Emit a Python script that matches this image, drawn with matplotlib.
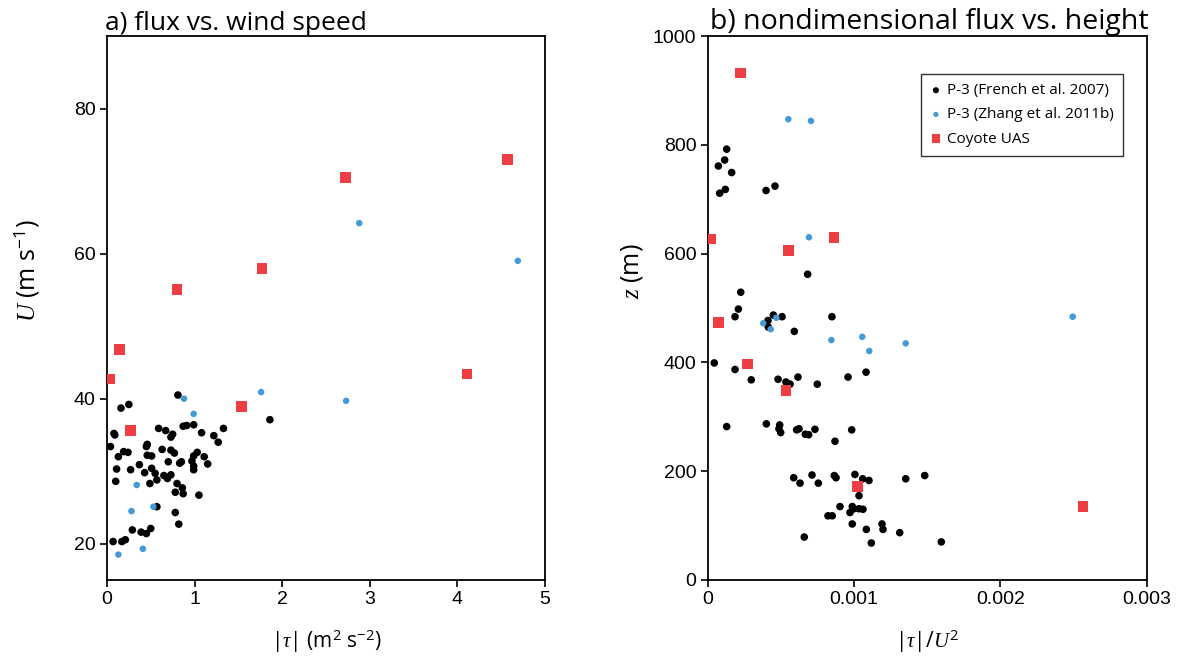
import matplotlib
matplotlib.use("Agg")
import matplotlib.pyplot as plt

# a) flux vs. wind speed  (|tau| in m2 s-2, U in m s-1)
french_tau = [0.81, 0.25, 0.16, 1.86, 0.08, 0.09, 0.59, 0.67, 0.75, 0.73, 0.87, 0.91, 0.99,
              1.08, 1.22, 1.33, 1.27, 0.04, 0.45, 0.46, 0.63, 0.73, 0.77, 0.19, 0.24, 0.13,
              0.46, 0.51, 1.03, 0.99, 1.11, 0.97, 0.70, 0.83, 0.85, 1.15, 0.99, 0.99, 0.11,
              0.27, 0.37, 0.51, 0.43, 0.55, 0.65, 0.73, 0.69, 0.57, 0.10, 0.49, 0.80, 0.86,
              0.78, 0.87, 1.05, 0.57, 0.78, 0.82, 0.29, 0.50, 0.39, 0.45, 0.07, 0.17, 0.21]
french_U = [40.5, 39.2, 38.7, 37.1, 35.2, 35.0, 35.9, 35.6, 35.1, 34.7, 36.2, 36.3, 36.4,
            35.3, 34.9, 35.9, 34.0, 33.4, 33.4, 33.7, 33.0, 32.9, 32.5, 32.7, 32.6, 32.0,
            32.2, 32.1, 32.6, 32.1, 32.0, 31.4, 31.3, 31.1, 31.3, 31.0, 30.7, 30.2, 30.3,
            30.2, 30.9, 30.4, 29.8, 29.7, 29.4, 29.5, 29.0, 28.8, 28.6, 28.3, 28.3, 27.7,
            27.1, 26.9, 26.7, 25.1, 24.3, 22.7, 21.9, 22.1, 21.6, 21.4, 20.3, 20.3, 20.55]
zhang_tau = [0.88, 0.99, 1.76, 2.73, 0.34, 0.28, 0.53, 0.13, 0.41, 2.88, 4.69]
zhang_U = [40.0, 37.9, 40.9, 39.7, 28.1, 24.5, 25.1, 18.5, 19.3, 64.2, 59.0]
coyote_tau = [0.14, 0.03, 1.54, 0.27, 0.80, 1.77, 2.72, 4.57, 4.11]
coyote_U = [46.8, 42.7, 38.9, 35.6, 55.0, 57.9, 70.5, 73.0, 43.4]

# b) nondimensional flux vs. height  (|tau|/U^2, z in m)
french_nd = [0.000131, 0.000117, 0.000074, 0.000165, 0.000083, 0.000122, 0.000400, 0.000461,
             0.000684, 0.000227, 0.000211, 0.000188, 0.000450, 0.000413, 0.000509, 0.000415,
             0.000593, 0.000850, 0.000046, 0.000188, 0.000299, 0.000482, 0.000536, 0.000564,
             0.000618, 0.000750, 0.000960, 0.001083, 0.000131, 0.000402, 0.000493, 0.000488,
             0.000500, 0.000609, 0.000625, 0.000668, 0.000691, 0.000734, 0.000985, 0.000871,
             0.000589, 0.000632, 0.000714, 0.000757, 0.000866, 0.000878, 0.001007, 0.001060,
             0.001103, 0.001354, 0.001484, 0.001035, 0.000905, 0.000989, 0.001001, 0.000973,
             0.001035, 0.001062, 0.000823, 0.000852, 0.000989, 0.001085, 0.001192, 0.001199,
             0.001313, 0.000661, 0.001119, 0.001597]
french_z = [792, 772, 761, 749, 711, 718, 716, 724, 562, 529, 498, 484, 487, 477, 484, 465,
            457, 484, 399, 387, 368, 369, 364, 360, 373, 360, 373, 382, 282, 287, 285, 278,
            271, 276, 278, 268, 267, 277, 276, 255, 188, 178, 193, 178, 192, 188, 194, 186,
            183, 186, 192, 155, 135, 135, 131, 124, 131, 130, 118, 118, 103, 93, 103, 93,
            87, 79, 68, 70]
zhang_nd = [0.000552, 0.000707, 0.000693, 0.000381, 0.000432, 0.000470, 0.000846, 0.001057,
            0.001105, 0.001354, 0.002495]
zhang_z = [847, 844, 630, 472, 461, 482, 441, 447, 421, 435, 484]
coyote_nd = [0.000224, 0.000024, 0.000555, 0.000864, 0.000074, 0.000275, 0.000536, 0.001023,
             0.002565]
coyote_z = [932, 627, 606, 630, 474, 397, 348, 172, 135]

BLACK = "#000000"
BLUE = "#4499d6"
RED = "#ee3e44"

plt.rcParams["font.family"] = ["Liberation Sans", "DejaVu Sans"]
plt.rcParams["mathtext.fontset"] = "custom"
plt.rcParams["mathtext.rm"] = "Open Sans"
plt.rcParams["mathtext.it"] = "Liberation Serif:italic"
plt.rcParams["mathtext.bf"] = "Open Sans:bold"

fig = plt.figure(figsize=(11.78, 6.63), dpi=100)
ax1 = fig.add_axes([0.0908, 0.1252, 0.3718, 0.8205])
ax2 = fig.add_axes([0.6006, 0.1252, 0.3728, 0.8205])

ax1.scatter(french_tau, french_U, s=30, color=BLACK, edgecolors="none", zorder=3)
ax1.scatter(zhang_tau, zhang_U, s=22, color=BLUE, edgecolors="none", zorder=3)
ax1.scatter(coyote_tau, coyote_U, s=60, marker="s", color=RED, edgecolors="none", zorder=4)
ax1.set_xlim(0, 5)
ax1.set_ylim(15, 90)
ax1.set_xticks([0, 1, 2, 3, 4, 5])
ax1.set_yticks([20, 40, 60, 80])

ax2.scatter(french_nd, french_z, s=30, color=BLACK, edgecolors="none", zorder=3,
            label="P-3 (French et al. 2007)")
ax2.scatter(zhang_nd, zhang_z, s=22, color=BLUE, edgecolors="none", zorder=3,
            label="P-3 (Zhang et al. 2011b)")
ax2.scatter(coyote_nd, coyote_z, s=60, marker="s", color=RED, edgecolors="none", zorder=4,
            label="Coyote UAS")
ax2.set_xlim(0, 0.003)
ax2.set_ylim(0, 1000)
ax2.set_xticks([0, 0.001, 0.002, 0.003])
ax2.set_xticklabels(["0", "0.001", "0.002", "0.003"])
ax2.set_yticks([0, 200, 400, 600, 800, 1000])

for ax in (ax1, ax2):
    for sp in ax.spines.values():
        sp.set_linewidth(1.3)
    ax.tick_params(direction="out", length=5, width=1.2, labelsize=14, pad=3)

ax1.set_title("a) flux vs. wind speed", loc="left", pad=3, x=-0.005,
              fontdict={"family": ["Open Sans", "DejaVu Sans"], "size": 19})
ax2.set_title("b) nondimensional flux vs. height", loc="left", pad=3, x=0.005,
              fontdict={"family": ["Open Sans", "DejaVu Sans"], "size": 20.5})

label_font = {"family": ["Open Sans", "DejaVu Sans"], "size": 15}
ylabel_font = {"family": ["Open Sans", "DejaVu Sans"], "size": 18}
ax1.set_xlabel(r"$|\tau|$ (m$^2$ s$^{-2}$)", fontdict=label_font, labelpad=14)
ax1.set_ylabel(r"$U$ (m s$^{-1}$)", fontdict=ylabel_font)
ax1.yaxis.set_label_coords(-0.151, 0.568)
ax2.set_xlabel(r"$|\tau|/U^2$", fontdict=label_font, labelpad=14)
ax2.set_ylabel(r"$z$ (m)", fontdict=ylabel_font)
ax2.yaxis.set_label_coords(-0.142, 0.567)

leg = ax2.legend(loc="upper right", bbox_to_anchor=(0.945, 0.93), borderaxespad=0,
                 fancybox=False, frameon=True, handletextpad=0.3, handlelength=0.8,
                 borderpad=0.6, labelspacing=0.6, markerscale=0.8,
                 prop={"family": ["Open Sans", "DejaVu Sans"], "size": 11})
leg.get_frame().set_edgecolor("black")
leg.get_frame().set_linewidth(1.0)

fig.savefig("out.png", dpi=100)
